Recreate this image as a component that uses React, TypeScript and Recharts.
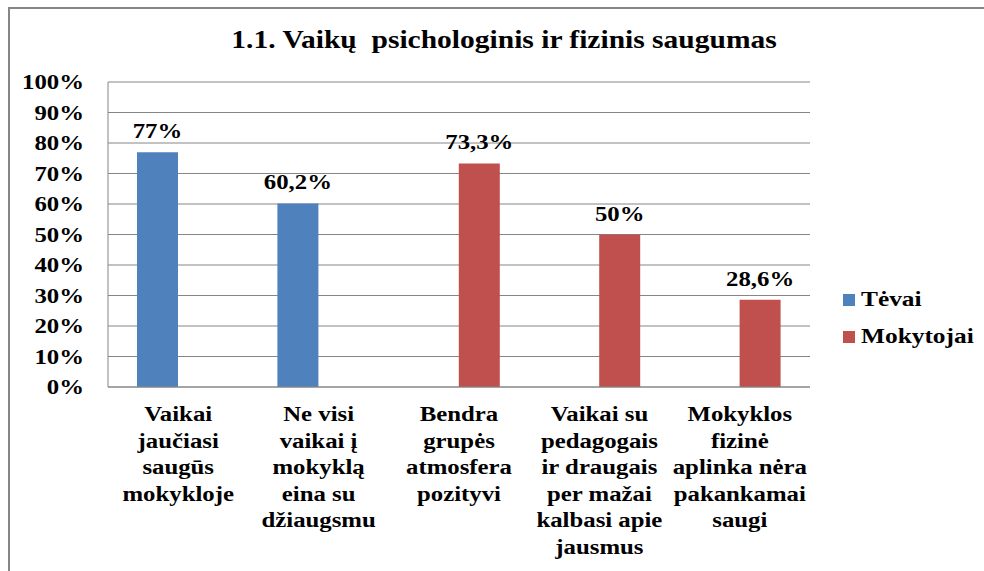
import React from "react";
import {
  BarChart,
  Bar,
  XAxis,
  YAxis,
  CartesianGrid,
} from "recharts";

// Category labels (line breaks as in the original)
const categories: string[] = [
  "Vaikai\njaučiasi\nsaugūs\nmokykloje",
  "Ne visi\nvaikai į\nmokyklą\neina su\ndžiaugsmu",
  "Bendra\ngrupės\natmosfera\npozityvi",
  "Vaikai su\npedagogais\nir draugais\nper mažai\nkalbasi apie\njausmus",
  "Mokyklos\nfizinė\naplinka nėra\npakankamai\nsaugi",
];

// Series values, percent
const tevai: (number | null)[] = [77, 60.2, null, null, null];
const mokytojai: (number | null)[] = [null, null, 73.3, 50, 28.6];

const yTicks: number[] = [0, 10, 20, 30, 40, 50, 60, 70, 80, 90, 100];

const seriesNames = { tevai: "Tėvai", mokytojai: "Mokytojai" };

const COLORS = { tevai: "#4F81BD", mokytojai: "#C0504D" };

const data = categories.map((name, i) => ({
  name,
  tevai: tevai[i],
  mokytojai: mokytojai[i],
}));

const FONT = "Liberation Serif";
const SX = 1.18; // the original text looks horizontally stretched
const GRID = "#868686";

const fmt = (v: number) => `${String(v).replace(".", ",")}%`;

const YTick = (props: any) => {
  const { x, y, payload } = props;
  return (
    <g transform={`translate(${x},${y})`}>
      <text
        transform={`scale(${SX},1)`}
        textAnchor="end"
        dy="0.35em"
        style={{ fontFamily: FONT }}
        fontWeight="bold"
        fontSize={21}
        fill="#000"
      >
        {payload.value}%
      </text>
    </g>
  );
};

const XTick = (props: any) => {
  const { x, y, payload } = props;
  const lines = String(payload.value).split("\n");
  return (
    <g transform={`translate(${x},${y})`}>
      <text
        transform={`scale(${SX},1)`}
        textAnchor="middle"
        style={{ fontFamily: FONT }}
        fontWeight="bold"
        fontSize={21}
        fill="#000"
      >
        {lines.map((l, i) => (
          <tspan key={i} x={0} y={26 + i * 26.6}>
            {l}
          </tspan>
        ))}
      </text>
    </g>
  );
};

const renderLabel = (props: any) => {
  const { x, y, width, value } = props;
  if (value == null) return null;
  return (
    <g transform={`translate(${x + width / 2},${y - 14})`}>
      <text
        transform={`scale(${SX},1)`}
        textAnchor="middle"
        style={{ fontFamily: FONT }}
        fontWeight="bold"
        fontSize={21}
        fill="#000"
      >
        {fmt(value)}
      </text>
    </g>
  );
};

const LegendItem = ({ color, label }: { color: string; label: string }) => (
  <div style={{ display: "flex", alignItems: "center", height: 37 }}>
    <span
      style={{ width: 12, height: 12, background: color, marginRight: 6 }}
    />
    <span
      style={{
        fontFamily: FONT,
        fontWeight: "bold",
        fontSize: 21.5,
        display: "inline-block",
        transform: `scaleX(${SX})`,
        transformOrigin: "left center",
      }}
    >
      {label}
    </span>
  </div>
);

export default function App() {
  return (
    <div
      style={{
        position: "absolute",
        left: 0,
        top: 0,
        width: 984,
        height: 571,
        overflow: "hidden",
        background: "#fff",
        fontFamily: FONT,
      }}
    >
      <div
        style={{
          position: "absolute",
          left: 8,
          top: 7,
          width: 984,
          height: 600,
          borderLeft: `2px solid ${GRID}`,
          borderTop: `2px solid ${GRID}`,
        }}
      />
      <div
        style={{
          position: "absolute",
          left: 504,
          top: 26,
          fontFamily: FONT,
          fontWeight: "bold",
          fontSize: 25,
          whiteSpace: "pre",
          transform: `translateX(-50%) scaleX(${SX})`,
        }}
      >
        1.1. Vaikų  psichologinis ir fizinis saugumas
      </div>
      <BarChart
        width={984}
        height={571}
        data={data}
        margin={{ top: 82, right: 174, bottom: 0, left: 0 }}
        barGap={0}
      >
        <CartesianGrid vertical={false} stroke={GRID} />
        <XAxis
          dataKey="name"
          interval={0}
          height={184}
          tickLine={false}
          axisLine={{ stroke: GRID }}
          tick={<XTick />}
        />
        <YAxis
          width={108}
          domain={[0, 100]}
          ticks={yTicks}
          interval={0}
          tickLine={false}
          tickMargin={18}
          axisLine={{ stroke: GRID }}
          tick={<YTick />}
        />
        <Bar
          dataKey="tevai"
          name={seriesNames.tevai}
          fill={COLORS.tevai}
          barSize={41}
          isAnimationActive={false}
          label={renderLabel}
        />
        <Bar
          dataKey="mokytojai"
          name={seriesNames.mokytojai}
          fill={COLORS.mokytojai}
          barSize={41}
          isAnimationActive={false}
          label={renderLabel}
        />
      </BarChart>
      <div style={{ position: "absolute", left: 843, top: 281 }}>
        <LegendItem color={COLORS.tevai} label={seriesNames.tevai} />
        <LegendItem color={COLORS.mokytojai} label={seriesNames.mokytojai} />
      </div>
    </div>
  );
}
